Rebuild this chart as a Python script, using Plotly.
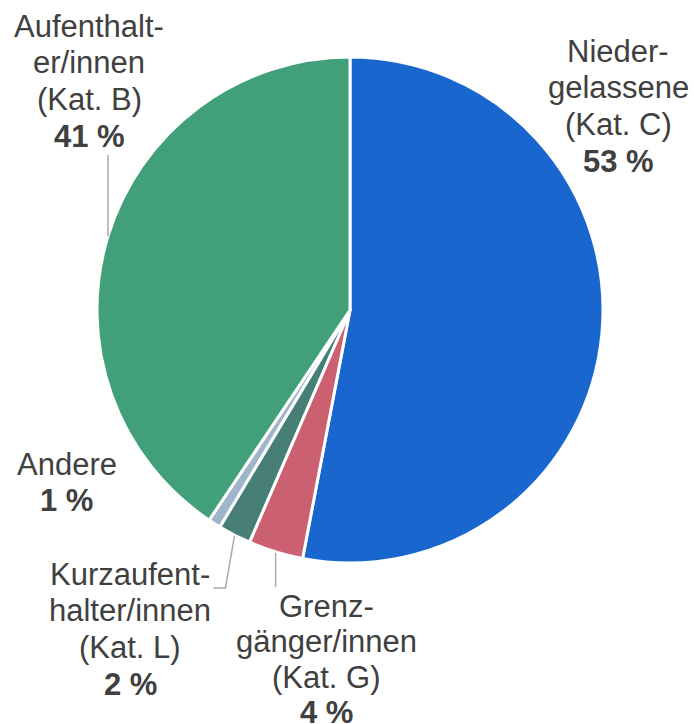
import math
import plotly.graph_objects as go

categories = ["Niederlassene (Kat. C)", "Grenzgänger/innen (Kat. G)",
              "Kurzaufenthalter/innen (Kat. L)", "Andere", "Aufenthalter/innen (Kat. B)"]
values = [53.0, 3.5, 2.1, 0.8, 40.6]
pct_labels = ["53 %", "4 %", "2 %", "1 %", "41 %"]
label_lines = [["Nieder-", "gelassene", "(Kat. C)"],
               ["Grenz-", "gänger/innen", "(Kat. G)"],
               ["Kurzaufent-", "halter/innen", "(Kat. L)"],
               ["Andere"],
               ["Aufenthalt-", "er/innen", "(Kat. B)"]]
colors = ["#1967CE", "#CB6170", "#477F76", "#A0B5CC", "#41A07A"]

W, H = 694, 724
CX, CY, R = 350, 310, 253
FS = 31
LS = 36.7

fig = go.Figure(go.Pie(
    labels=categories, values=values, sort=False, direction="clockwise", rotation=0,
    marker=dict(colors=colors, line=dict(color="white", width=3)),
    textinfo="none", hoverinfo="label+percent",
    domain=dict(x=[(CX - R) / W, (CX + R) / W], y=[1 - (CY + R) / H, 1 - (CY - R) / H]),
))

def px(x, y):
    return x / W, 1 - y / H

# label anchor: (centre x, baseline of first line) in pixels
label_pos = [(618, 62), (326, 617), (130, 585), (66.5, 475), (89, 37)]
spacing = [LS, 35.5, LS, LS, LS]
font_col = "#404040"
for lines, pct, (lx, ly), sp in zip(label_lines, pct_labels, label_pos, spacing):
    all_lines = [(t, False) for t in lines] + [(pct, True)]
    for i, (t, bold) in enumerate(all_lines):
        base = ly + i * sp
        ax, ay = px(lx, base - 0.3465 * FS)
        fig.add_annotation(x=ax, y=ay, xref="paper", yref="paper",
                           text=f"<b>{t}</b>" if bold else t, showarrow=False,
                           font=dict(family="Liberation Sans, Arial", size=FS, color=font_col),
                           align="center", xanchor="center", yanchor="middle",
                           borderpad=0)

# leader lines computed from slice mid-angles
total = sum(values)
cum = 0
mids = []
for v in values:
    mids.append((cum + v / 2) / total * 360)
    cum += v

def edge(idx, r=R):
    a = math.radians(mids[idx])
    return CX + r * math.sin(a), CY - r * math.cos(a)

line_style = dict(color="#AAAAAA", width=1.5)
# Grenzgänger
gx, gy = edge(1)
x0, y0 = px(gx, gy + 1); x1, y1 = px(gx, 587)
fig.add_shape(type="line", xref="paper", yref="paper", x0=x0, y0=y0, x1=x1, y1=y1, line=line_style)
# Kurzaufenthalter
kx, ky = edge(2)
pts = [(kx, ky + 1), (kx - 9, 588), (kx - 21, 588)]
path = "M " + " L ".join(f"{px(a, b)[0]},{px(a, b)[1]}" for a, b in pts)
fig.add_shape(type="path", xref="paper", yref="paper", path=path, line=line_style)
# Aufenthalter
ax_, ay_ = edge(4)
x0, y0 = px(ax_, ay_); x1, y1 = px(ax_, 155)
fig.add_shape(type="line", xref="paper", yref="paper", x0=x0, y0=y0, x1=x1, y1=y1, line=line_style)

fig.update_layout(width=W, height=H, margin=dict(l=0, r=0, t=0, b=0),
                  showlegend=False, paper_bgcolor="white", plot_bgcolor="white")
fig.write_html("out.html", config={"displayModeBar": False},
               post_script="document.body.style.margin='0';")
